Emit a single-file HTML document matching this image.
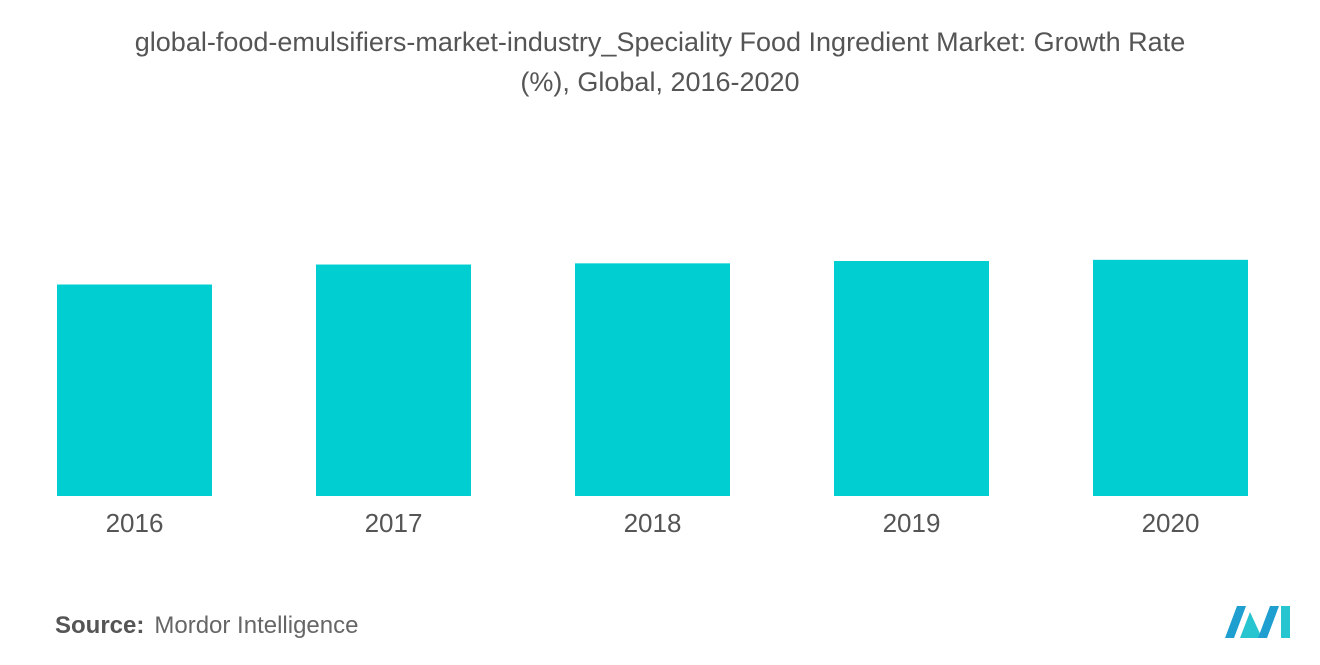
<!DOCTYPE html>
<html><head><meta charset="utf-8"><style>
body{margin:0;width:1320px;height:665px;background:#fff;font-family:"Liberation Sans",sans-serif;overflow:hidden;position:relative}
#title{position:absolute;left:0;top:22px;width:1320px;text-align:center;font-size:27px;line-height:40px;color:#555}
#source{position:absolute;left:55px;top:612px;font-size:24px;color:#666}
#source b{font-weight:bold;color:#555;margin-right:10px}
svg{position:absolute;left:0;top:0}
</style></head><body>
<div id="title">global-food-emulsifiers-market-industry_Speciality Food Ingredient Market: Growth Rate<br>(%), Global, 2016-2020</div>
<svg id="chart" width="1320" height="665"></svg>
<div id="source"><b>Source:</b>Mordor Intelligence</div>
<svg width="1320" height="665" style="pointer-events:none">
<polygon points="1225,638 1237,606 1246,606 1234,638" fill="#1f9fd0"/>
<polygon points="1240,638 1250,612 1262,638" fill="#27c5cf"/>
<polygon points="1258,638 1270,606 1279,606 1267,638" fill="#1f9fd0"/>
<polygon points="1281,606 1290,606 1290,638 1281,638" fill="#27c5cf"/>
</svg>
<script>
const categories=["2016","2017","2018","2019","2020"];
const values=[9.0,9.85,9.9,10.0,10.05];
const svg=document.getElementById('chart');
const NS='http://www.w3.org/2000/svg';
const baseY=496,pxPerUnit=23.5,left=57,step=259,barW=155;
const x=i=>left+i*step;
const y=v=>baseY-v*pxPerUnit;
categories.forEach((c,i)=>{
 const r=document.createElementNS(NS,'rect');
 r.setAttribute('x',x(i));r.setAttribute('y',y(values[i]));
 r.setAttribute('width',barW);r.setAttribute('height',baseY-y(values[i]));
 r.setAttribute('fill','#00ced1');
 
 
 svg.appendChild(r);
 const t=document.createElementNS(NS,'text');
 t.setAttribute('x',x(i)+barW/2);t.setAttribute('y',532);
 t.setAttribute('text-anchor','middle');t.setAttribute('font-size','26');
 t.setAttribute('fill','#555');t.setAttribute('font-family','Liberation Sans, sans-serif');
 t.textContent=c;
 
 
 svg.appendChild(t);
});
</script>
</body></html>
